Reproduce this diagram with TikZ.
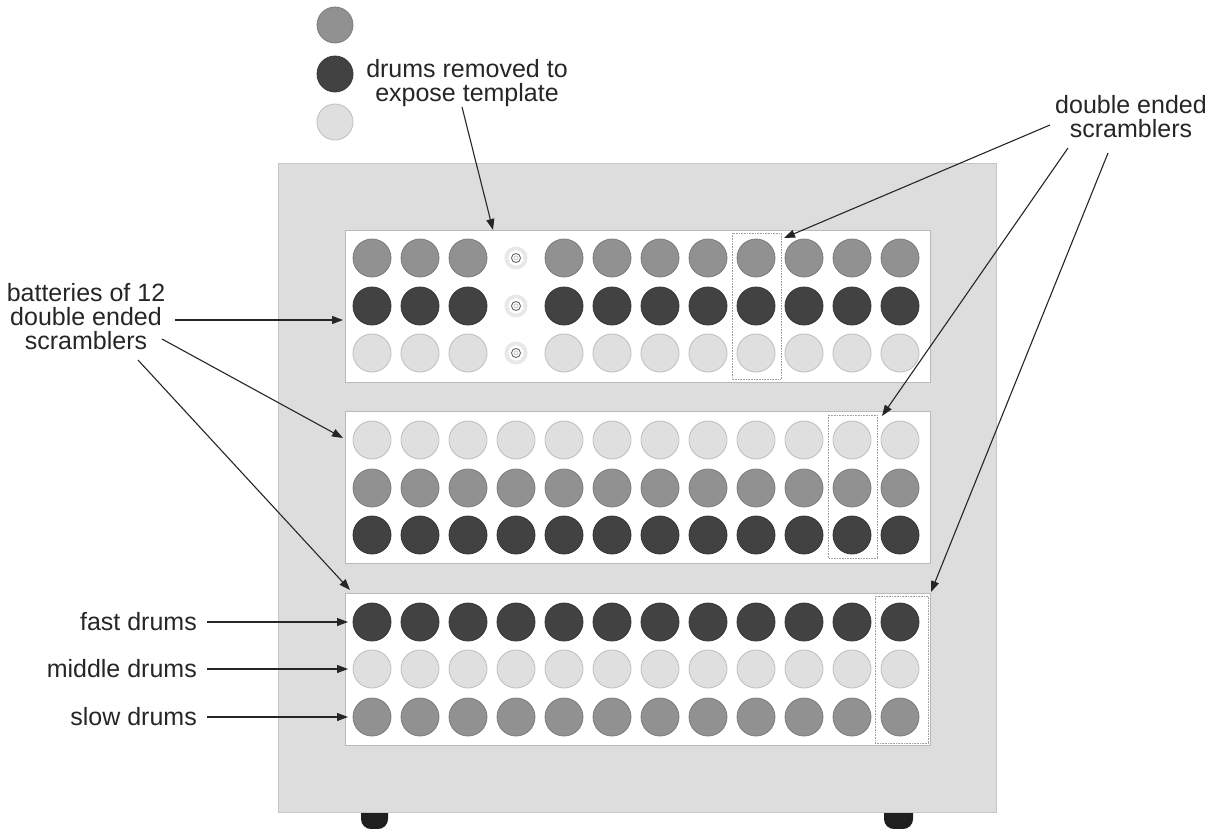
\documentclass[tikz,border=0pt]{standalone}
\usepackage{fontspec}
\setmainfont{Liberation Sans}
\usetikzlibrary{arrows.meta}
\definecolor{medg}{HTML}{919191}
\definecolor{darkg}{HTML}{424242}
\definecolor{lightg}{HTML}{DFDFDF}
\definecolor{cab}{HTML}{DDDDDD}
\definecolor{txt}{HTML}{262626}
\begin{document}
\begin{tikzpicture}[x=1pt,y=-1pt,
  drum/.style={circle, minimum size=38pt, inner sep=0pt, line width=0.8pt},
  mdrum/.style={drum, fill=medg, draw=medg!85!black},
  ddrum/.style={drum, fill=darkg, draw=darkg!80!black},
  ldrum/.style={drum, fill=lightg, draw=lightg!85!black},
  panel/.style={fill=white, draw=gray!55, line width=0.8pt},
  scr/.style={draw=gray!75, densely dotted, line width=0.6pt},
  lbl/.style={font=\fontsize{25}{24}\selectfont, text=txt, inner sep=0pt, align=center},
  arr/.style={draw=txt, line width=1.1pt, -{Triangle[length=11pt,width=8pt]}}]
\useasboundingbox (0,0) rectangle (1217,828);
\fill[white] (0,0) rectangle (1217,828);
% feet
\begin{scope}
  \clip (0,0) rectangle (1217,828);
  \fill[black!88, rounded corners=10pt] (361,800) rectangle (388,829);
  \fill[black!88, rounded corners=10pt] (884,800) rectangle (913,829);
\end{scope}
% cabinet
\draw[fill=cab, draw=gray!45, line width=1pt] (278,163) rectangle (996,812);
% panels
\draw[panel] (345,230) rectangle (930,382);
\draw[panel] (345,411) rectangle (930,563);
\draw[panel] (345,593) rectangle (930,745);
% panel 1 drums
\foreach \i in {1,2,3,5,6,...,12} {
  \node[mdrum] (a1c\i) at ({372+48*(\i-1)},258) {};
  \node[ddrum] (a2c\i) at ({372+48*(\i-1)},306) {};
  \node[ldrum] (a3c\i) at ({372+48*(\i-1)},353) {};
}
% template spots
\foreach \y/\n in {258/1,306/2,353/3} {
  \draw[gray!18, line width=3pt] (516,\y) circle (10pt);
  \draw[gray!45, densely dotted, line width=0.6pt] (516,\y) circle (8pt);
  \draw[gray!70!black, line width=0.8pt] (516,\y) circle (4.5pt);
  \draw[gray!60, line width=0.5pt] (516,\y) circle (2pt);
  \coordinate (tpl\n) at (516,\y);
}
% panel 2 drums
\foreach \i in {1,...,12} {
  \node[ldrum] (b1c\i) at ({372+48*(\i-1)},440) {};
  \node[mdrum] (b2c\i) at ({372+48*(\i-1)},488) {};
  \node[ddrum] (b3c\i) at ({372+48*(\i-1)},535) {};
}
% panel 3 drums
\foreach \i in {1,...,12} {
  \node[ddrum] (c1c\i) at ({372+48*(\i-1)},622) {};
  \node[ldrum] (c2c\i) at ({372+48*(\i-1)},669) {};
  \node[mdrum] (c3c\i) at ({372+48*(\i-1)},717) {};
}
% dotted scrambler outlines
\draw[scr] (732,233) rectangle (781,379);
\draw[scr] (828,415) rectangle (877,558);
\draw[scr] (875,596) rectangle (928,743);
% legend drums
\node[mdrum, minimum size=36pt] (lg1) at (335,25) {};
\node[ddrum, minimum size=36pt] (lg2) at (335,74) {};
\node[ldrum, minimum size=36pt] (lg3) at (335,122) {};
% labels
\node[lbl, anchor=north] (rem) at (467,59) {drums removed to\\expose template};
\node[lbl, anchor=north] (bat) at (86,283) {batteries of 12\\double ended\\scramblers};
\node[lbl, anchor=north] (des) at (1131,95) {double ended\\scramblers};
\node[lbl, anchor=base east] (fast) at (197,630) {fast drums};
\node[lbl, anchor=base east] (mid) at (197,677) {middle drums};
\node[lbl, anchor=base east] (slow) at (197,725) {slow drums};
% connector ends
\coordinate (remS) at (462,107);
\coordinate (remT) at (493,230);
\coordinate (batS1) at (175,320);
\coordinate (batT1) at (343,320);
\coordinate (batS2) at (162,339);
\coordinate (batT2) at (343,438);
\coordinate (batS3) at (138,360);
\coordinate (batT3) at (350,590);
\coordinate (desS1) at (1050,125);
\coordinate (desT1) at (784,238);
\coordinate (desS2) at (1068,148);
\coordinate (desT2) at (882,416);
\coordinate (desS3) at (1108,153);
\coordinate (desT3) at (931,592);
\coordinate (fastS) at (207,622);
\coordinate (fastT) at (348,622);
\coordinate (midS) at (207,669);
\coordinate (midT) at (348,669);
\coordinate (slowS) at (207,717);
\coordinate (slowT) at (348,717);
% connectors
\draw[arr] (remS) -- (remT);
\draw[arr] (batS1) -- (batT1);
\draw[arr] (batS2) -- (batT2);
\draw[arr] (batS3) -- (batT3);
\draw[arr] (desS1) -- (desT1);
\draw[arr] (desS2) -- (desT2);
\draw[arr] (desS3) -- (desT3);
\draw[arr] (fastS) -- (fastT);
\draw[arr] (midS) -- (midT);
\draw[arr] (slowS) -- (slowT);
\end{tikzpicture}
\end{document}
